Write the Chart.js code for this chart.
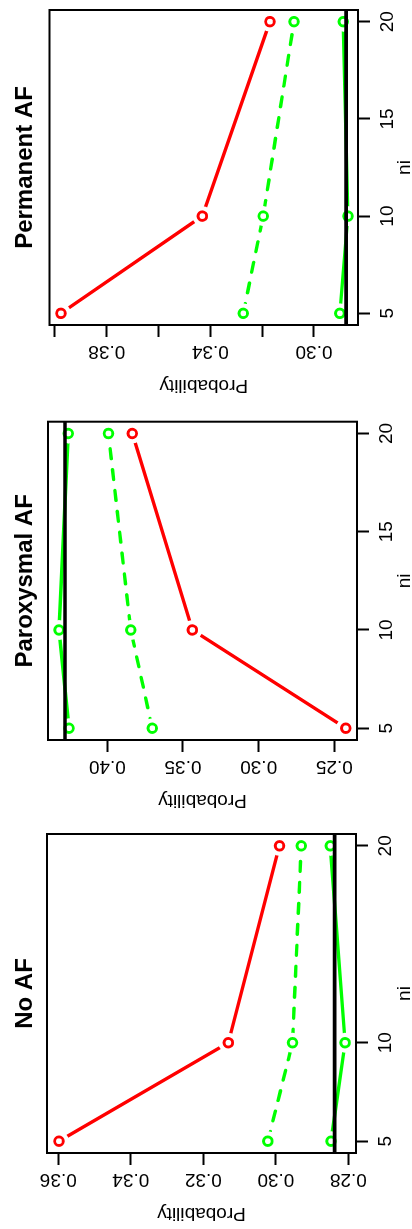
<!DOCTYPE html>
<html lang="en">
<head>
<meta charset="UTF-8" />
<title>Probability by ni</title>
<script src="https://cdn.jsdelivr.net/npm/chart.js@4.4.0/dist/chart.umd.min.js"></script>
<style>
  html, body { margin: 0; padding: 0; background: #fff; overflow: hidden; }
  #page { position: absolute; left: 0; top: 0; width: 412px; height: 1229px; overflow: hidden; }
  /* the three panels sit side by side, then the whole strip is turned a quarter turn */
  #strip { position: absolute; left: 0; top: 0; width: 1229px; height: 412px;
           transform-origin: 0 0; transform: translate(0px, 1229px) rotate(-90deg); }
  #strip canvas { position: absolute; top: 0; }
</style>
</head>
<body>
<div id="page"><div id="strip">
  <canvas id="noChart" width="410" height="412" style="left:0px"></canvas>
  <canvas id="parChart" width="410" height="412" style="left:410px"></canvas>
  <canvas id="permChart" width="409" height="412" style="left:820px"></canvas>
</div></div>
<script>
// x values (ni) and axis limits
const ni = [5, 10, 20];
const niRange = [4.4, 20.6];

// No AF
const noRed = [0.3598, 0.3131, 0.2990];
const noGreenDash = [0.3022, 0.2954, 0.2930];
const noGreen = [0.2848, 0.2809, 0.2850];
const noRef = 0.2838;
const noRange = [0.2779, 0.3631];
const noTicks = [0.28, 0.30, 0.32, 0.34, 0.36];
const noLabels = ["0.28", "0.30", "0.32", "0.34", "0.36"];
const noNiTicks = [5, 10, 20];

// Paroxysmal AF
const parRed = [0.2424, 0.3438, 0.3835];
const parGreenDash = [0.3703, 0.3845, 0.3993];
const parGreen = [0.4253, 0.4319, 0.4258];
const parRef = 0.4280;
const parRange = [0.2350, 0.4392];
const parTicks = [0.25, 0.30, 0.35, 0.40];
const parLabels = ["0.25", "0.30", "0.35", "0.40"];
const parNiTicks = [5, 10, 15, 20];

// Permanent AF
const permRed = [0.3977, 0.3431, 0.3170];
const permGreenDash = [0.3273, 0.3196, 0.3077];
const permGreen = [0.2900, 0.2869, 0.2887];
const permRef = 0.2876;
const permRange = [0.2830, 0.4021];
const permTicks = [0.30, 0.32, 0.34, 0.36, 0.38, 0.40];
const permLabels = ["0.30", "", "0.34", "", "0.38", ""];
const permNiTicks = [5, 10, 15, 20];

Chart.defaults.font.family = '"Liberation Sans", Arial, Helvetica, sans-serif';
Chart.defaults.color = "#000";

const RED = "#ff0000";
const GREEN = "#00ff00";
const AXIS_W = 76;

const boxPlugin = {
  id: "box",
  afterDatasetsDraw(chart) {
    const a = chart.chartArea;
    const ctx = chart.ctx;
    ctx.save();
    ctx.strokeStyle = "#000";
    ctx.lineWidth = 2;
    ctx.strokeRect(a.left, a.top, a.right - a.left, a.bottom - a.top);
    ctx.restore();
  }
};

function pts(ys) {
  return ni.map((x, i) => ({ x: x, y: ys[i] }));
}

function lineSet(ys, color, dash) {
  return { data: pts(ys), showLine: true, borderColor: color, borderWidth: 3.4,
           borderDash: dash, borderCapStyle: "round", pointRadius: 0 };
}
// white disc under each marker so the joining lines stop short of it (R type = "b")
function haloSet(ys) {
  return { data: pts(ys), showLine: false, pointRadius: 10, pointBorderWidth: 0,
           pointBackgroundColor: "#fff", pointBorderColor: "#fff" };
}
function pointSet(ys, color) {
  return { data: pts(ys), showLine: false, pointRadius: 4.3, pointBorderWidth: 2.9,
           pointBorderColor: color, pointBackgroundColor: "rgba(0,0,0,0)" };
}

function makeChart(id, title, red, dash, green, ref, range, ticks, labels, niTicks, geo) {
  const canvas = document.getElementById(id);
  const W = canvas.width, H = canvas.height;
  return new Chart(canvas, {
    type: "scatter",
    data: {
      datasets: [
        { data: [{ x: niRange[0], y: ref }, { x: niRange[1], y: ref }], showLine: true,
          borderColor: "#000", borderWidth: 3.6, pointRadius: 0 },
        pointSet(red, RED), pointSet(dash, GREEN), pointSet(green, GREEN),
        haloSet(red), haloSet(dash), haloSet(green),
        lineSet(red, RED, []), lineSet(dash, GREEN, [10, 11]), lineSet(green, GREEN, [])
      ]
    },
    options: {
      responsive: false,
      animation: false,
      events: [],
      layout: { padding: { left: geo.left - AXIS_W, right: W - geo.right, top: 0, bottom: 0 } },
      plugins: {
        legend: { display: false },
        tooltip: { enabled: false },
        title: { display: true, text: title, fullSize: false, color: "#000",
                 font: { size: 24, weight: "bold" },
                 padding: { top: 11.1, bottom: geo.top - 39.9 } }
      },
      scales: {
        x: {
          type: "linear", position: "bottom", min: niRange[0], max: niRange[1],
          afterFit: s => { s.height = H - geo.bottom; },
          afterBuildTicks: s => { s.ticks = niTicks.map(v => ({ value: v })); },
          grid: { drawOnChartArea: false, tickLength: 12, tickWidth: 2, color: "#000", tickColor: "#000" },
          border: { display: false },
          ticks: { autoSkip: false, maxRotation: 0, padding: 6, color: "#000", font: { size: 19 },
                   callback: v => String(v) },
          title: { display: true, text: "ni", color: "#000", font: { size: 19 },
                   padding: { top: 0, bottom: -4 } }
        },
        y: {
          type: "linear", position: "left", min: range[0], max: range[1],
          afterFit: s => { s.width = AXIS_W; },
          afterBuildTicks: s => { s.ticks = ticks.map(v => ({ value: v })); },
          grid: { drawOnChartArea: false, tickLength: 12, tickWidth: 2, color: "#000", tickColor: "#000" },
          border: { display: false },
          ticks: { autoSkip: false, minRotation: 90, maxRotation: 90, crossAlign: "center",
                   padding: -4.5, color: "#000", font: { size: 19 },
                   callback: (v, i) => labels[i] },
          title: { display: true, text: "Probability", color: "#000", font: { size: 19 },
                   padding: { top: 4.5, bottom: 0 } }
        }
      }
    },
    plugins: [boxPlugin]
  });
}

makeChart("noChart", "No AF", noRed, noGreenDash, noGreen, noRef, noRange, noTicks, noLabels, noNiTicks,
          { left: 76, right: 395, top: 47, bottom: 356 });
makeChart("parChart", "Paroxysmal AF", parRed, parGreenDash, parGreen, parRef, parRange, parTicks, parLabels, parNiTicks,
          { left: 79, right: 397.3, top: 48, bottom: 357 });
makeChart("permChart", "Permanent AF", permRed, permGreenDash, permGreen, permRef, permRange, permTicks, permLabels, permNiTicks,
          { left: 84, right: 403.3, top: 49.5, bottom: 358 });
</script>
</body>
</html>
